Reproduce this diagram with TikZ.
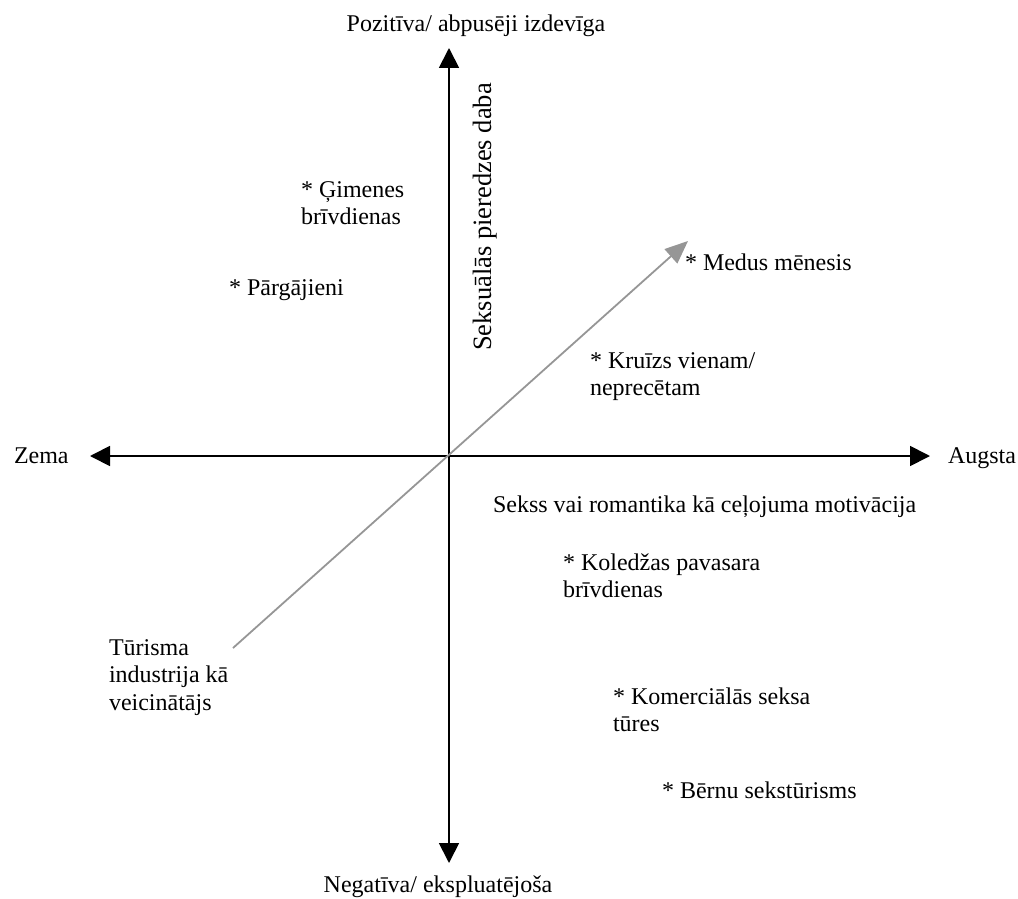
\documentclass[tikz,border=0pt]{standalone}
\usepackage{fontspec}
\setmainfont{Liberation Serif}
\usetikzlibrary{arrows.meta}
\definecolor{diaggray}{RGB}{150,150,150}
\begin{document}
\begin{tikzpicture}[x=1pt,y=-1pt,
  every node/.style={inner sep=0pt,outer sep=0pt,font=\fontsize{24}{27.5}\selectfont},
  lbl/.style={anchor=base west},
  multi/.style={anchor=north west,align=left},
  axis/.style={line width=1.8pt,draw=black,-{Triangle[length=20pt,width=20pt]}},
  diag/.style={line width=1.8pt,draw=diaggray,-{Triangle[length=23pt,width=19pt]}}]
\useasboundingbox (0,0) rectangle (1018,899);
\coordinate (O) at (449,456);
\coordinate (T) at (449,48);
\coordinate (B) at (449,863);
\coordinate (Lt) at (90,456);
\coordinate (Rt) at (930,456);
\coordinate (Ds) at (233,648);
\coordinate (De) at (688,241);
\draw[axis] (O) -- (T);
\draw[axis] (O) -- (B);
\draw[axis] (O) -- (Lt);
\draw[axis] (O) -- (Rt);
\draw[diag] (Ds) -- (De);
\node[anchor=base] (pos) at (476,32) {Pozitīva/ abpusēji izdevīga};
\node[anchor=base] (neg) at (438,892) {Negatīva/ ekspluatējoša};
\node[lbl] (zema) at (14,463) {Zema};
\node[lbl] (augsta) at (948,463) {Augsta};
\node[anchor=base,rotate=90,font=\fontsize{26.5}{30}\selectfont] (sexexp) at (491,217) {Seksuālās pieredzes daba};
\node[lbl] (motiv) at (493,512) {Sekss vai romantika kā ceļojuma motivācija};
\node[multi] (gim) at (301,197-22) {\rule{0pt}{22pt}* Ģimenes\\brīvdienas};
\node[lbl] (parg) at (229,295) {* Pārgājieni};
\node[lbl] (medus) at (685,270) {* Medus mēnesis};
\node[multi] (kruizs) at (590,368-22) {\rule{0pt}{22pt}* Kruīzs vienam/\\neprecētam};
\node[multi] (koled) at (563,570-22) {\rule{0pt}{22pt}* Koledžas pavasara\\brīvdienas};
\node[multi] (turism) at (109,655-22) {\rule{0pt}{22pt}Tūrisma\\industrija kā\\veicinātājs};
\node[multi] (komerc) at (613,704-22) {\rule{0pt}{22pt}* Komerciālās seksa\\tūres};
\node[lbl] (bernu) at (662,798) {* Bērnu sekstūrisms};
\end{tikzpicture}
\end{document}
